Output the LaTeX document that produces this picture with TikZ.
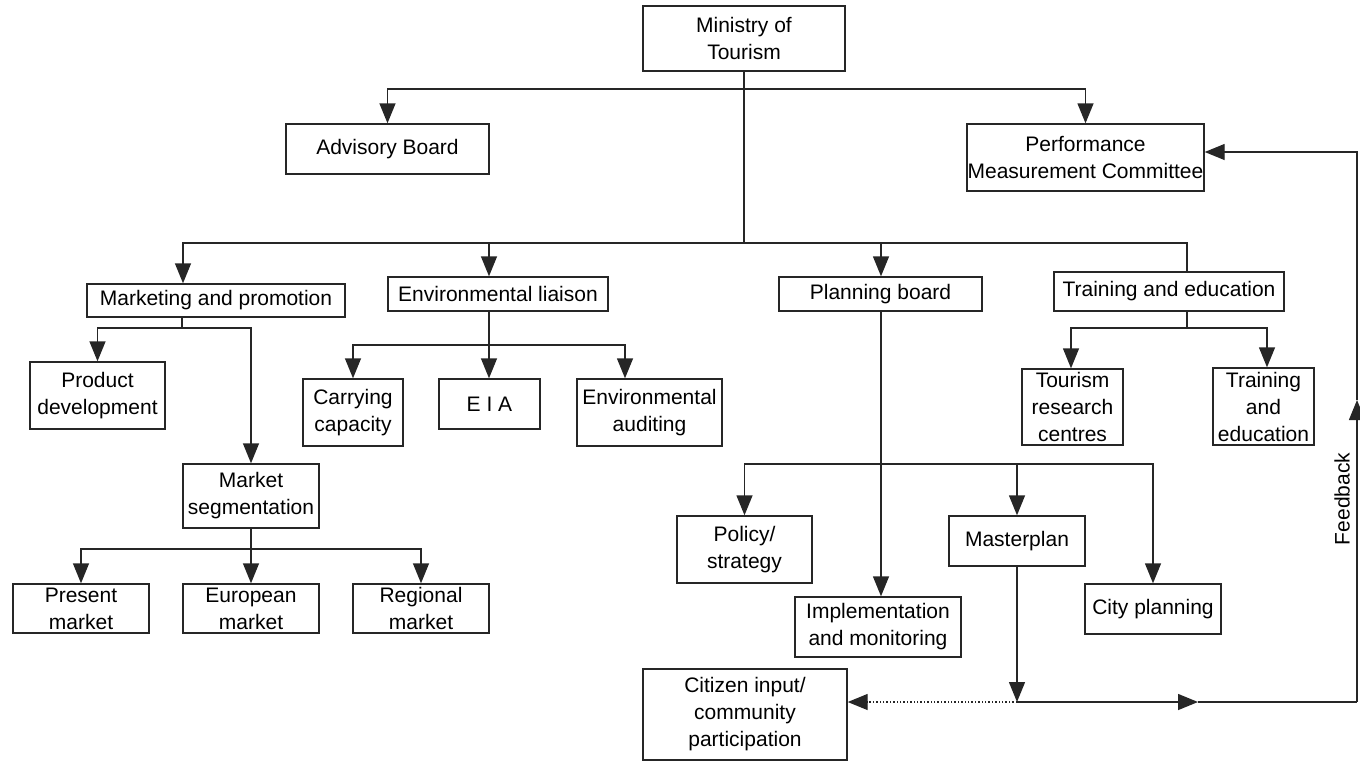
\documentclass[tikz,border=0pt]{standalone}
\usepackage{fontspec}
\setmainfont{Liberation Sans}
\usetikzlibrary{arrows.meta}
\begin{document}
\begin{tikzpicture}[x=0.5pt,y=-0.5pt,
  box/.style={draw=black!85,line width=0.7pt,inner sep=0pt,align=center,
    font=\fontsize{10.5pt}{13.5pt}\selectfont},
  ln/.style={draw=black!85,line width=0.7pt},
  arr/.style={ln,-{Triangle[length=10pt,width=8pt]}},
  dotarr/.style={arr,densely dotted}]
\useasboundingbox (0,0) rectangle (1360,761);
% nodes (center, width, height in px; 1px = 0.5pt)
\node[box,minimum width=101pt,minimum height=32.5pt] (min) at (744,38.5) {Ministry of\\Tourism};
\node[box,minimum width=101.5pt,minimum height=25pt] (adv) at (387.5,149) {Advisory Board};
\node[box,minimum width=118.5pt,minimum height=33.5pt] (pmc) at (1085.5,157.5) {Performance\\Measurement Committee};
\node[box,minimum width=129pt,minimum height=16.5pt] (mkt) at (216,300.5) {Marketing and promotion};
\node[box,minimum width=110pt,minimum height=17pt] (env) at (498,294) {Environmental liaison};
\node[box,minimum width=101.5pt,minimum height=17pt] (plan) at (880.5,294) {Planning board};
\node[box,minimum width=115pt,minimum height=19.5pt] (train) at (1169,291.5) {Training and education};
\node[box,minimum width=67.5pt,minimum height=33.5pt] (prod) at (97.5,395.5) {Product\\development};
\node[box,minimum width=68pt,minimum height=32pt] (seg) at (251,496) {Market\\segmentation};
\node[box,minimum width=68pt,minimum height=24.5pt] (pres) at (81,608.5) {Present\\market};
\node[box,minimum width=68pt,minimum height=24.5pt] (euro) at (251,608.5) {European\\market};
\node[box,minimum width=68pt,minimum height=24.5pt] (reg) at (421,608.5) {Regional\\market};
\node[box,minimum width=50pt,minimum height=33.5pt] (carry) at (353,412.5) {Carrying\\capacity};
\node[box,minimum width=50.5pt,minimum height=25pt] (eia) at (489.5,404) {E I A};
\node[box,minimum width=72.5pt,minimum height=33.5pt] (aud) at (649.5,412.5) {Environmental\\auditing};
\node[box,minimum width=50.5pt,minimum height=38pt] (tour) at (1072.5,407) {Tourism\\research\\centres};
\node[box,minimum width=50.5pt,minimum height=38.5pt] (tr2) at (1263.5,406.5) {Training\\and\\education};
\node[box,minimum width=67.5pt,minimum height=33.5pt] (pol) at (744.5,549.5) {Policy/\\strategy};
\node[box,minimum width=68pt,minimum height=25pt] (mast) at (1017,541) {Masterplan};
\node[box,minimum width=68pt,minimum height=25pt] (city) at (1153,609) {City planning};
\node[box,minimum width=83pt,minimum height=30pt] (impl) at (878,627) {Implementation\\and monitoring};
\node[box,minimum width=102pt,minimum height=45.5pt] (cit) at (745,714.5) {Citizen input/\\community\\participation};
\node[rotate=90,font=\fontsize{10.5pt}{13.5pt}\selectfont] (fb) at (1342,499) {Feedback};
% junction coordinates
\coordinate (t1) at (744,89);
\coordinate (t2) at (744,243);
\coordinate (mj) at (182,328);
\coordinate (sj) at (251,549);
\coordinate (ej) at (489,345);
\coordinate (pj) at (881,464);
\coordinate (tj) at (1187,328);
\coordinate (jm) at (1017,702);
\coordinate (fa) at (1198,702);
\coordinate (fc) at (1357,702);
\coordinate (fu) at (1357,400);
\coordinate (ft) at (1357,152);
% top level
\draw[ln] (min.south) -- (t2);
\draw[arr] (t1) -| (adv.north);
\draw[arr] (t1) -| (pmc.north);
\draw[arr] (t2) -| (183,0 |- mkt.north);
\draw[arr] (t2) -| (489,0 |- env.north);
\draw[arr] (t2) -| (881,0 |- plan.north);
\draw[ln] (t2) -| (1187,0 |- train.north);
% marketing
\draw[ln] (182,0 |- mkt.south) -- (mj);
\draw[arr] (mj) -| (prod.north);
\draw[arr] (mj) -| (seg.north);
\draw[ln] (seg.south) -- (sj);
\draw[arr] (sj) -| (pres.north);
\draw[arr] (sj) -- (euro.north);
\draw[arr] (sj) -| (reg.north);
% environment
\draw[arr] (489,0 |- env.south) -- (489,0 |- eia.north);
\draw[arr] (ej) -| (carry.north);
\draw[arr] (ej) -| (625,0 |- aud.north);
% planning
\draw[arr] (881,0 |- plan.south) -- (881,0 |- impl.north);
\draw[arr] (pj) -| (pol.north);
\draw[arr] (pj) -| (mast.north);
\draw[arr] (pj) -| (city.north);
% training
\draw[ln] (1187,0 |- train.south) -- (tj);
\draw[arr] (tj) -| (1071,0 |- tour.north);
\draw[arr] (tj) -| (1267,0 |- tr2.north);
% masterplan and feedback
\draw[arr] (mast.south) -- (jm);
\draw[dotarr] (jm) -- (cit.east |- jm);
\draw[arr] (jm) -- (fa);
\draw[ln] (fa) -- (fc);
\draw[arr] (fc) -- (fu);
\draw[arr] (fu) -- (ft) -- (pmc.east |- ft);
\end{tikzpicture}
\end{document}
